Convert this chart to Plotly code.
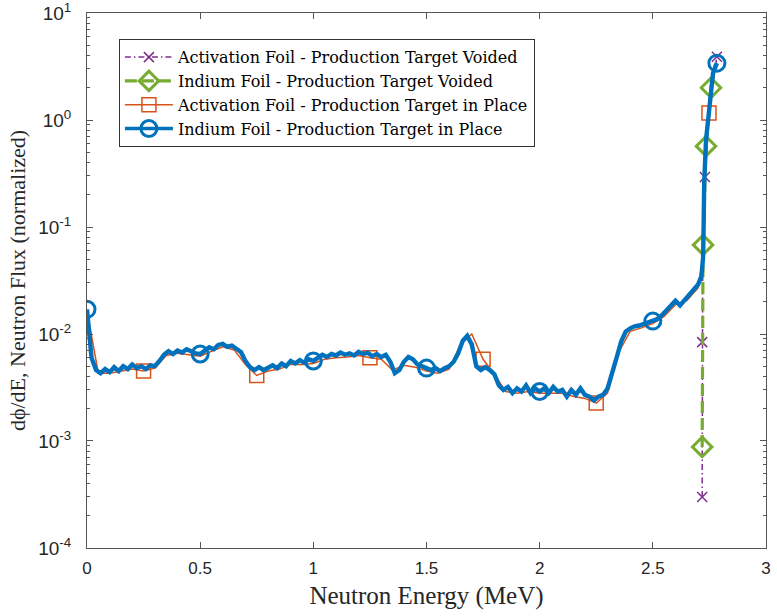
import plotly.graph_objects as go

# ---------------- data ----------------
# Indium foil - production target in place (blue), x step 0.02 MeV then tail
blue_x = [round(0.02 * i, 2) for i in range(136)] + [2.715, 2.722, 2.724, 2.727, 2.735, 2.753, 2.766, 2.783]
blue_y_e3 = [
    17.0, 6.0, 4.6, 4.3, 4.7, 4.4, 4.9, 4.5, 5.0, 4.7,      # 0.00-0.18
    5.2, 4.8, 5.0, 4.7, 5.1, 5.0, 5.6, 6.4, 6.9, 6.5,       # 0.20-0.38
    7.0, 6.7, 7.2, 6.8, 6.6, 6.5, 7.0, 7.5, 7.2, 7.9,       # 0.40-0.58
    8.1, 7.6, 7.8, 7.3, 6.8, 5.6, 4.9, 4.6, 4.9, 4.6,       # 0.60-0.78
    4.8, 5.1, 4.8, 5.3, 5.0, 5.6, 5.3, 5.7, 5.4, 5.8,       # 0.80-0.98
    5.6, 6.0, 6.4, 6.1, 6.5, 6.3, 6.7, 6.4, 6.6, 6.3,       # 1.00-1.18
    6.8, 6.5, 6.7, 6.2, 6.5, 6.1, 6.4, 5.5, 4.3, 4.6,       # 1.20-1.38
    5.5, 6.1, 5.8, 5.2, 5.0, 4.8, 4.6, 4.8, 4.5, 4.8,       # 1.40-1.58
    5.0, 5.5, 6.6, 8.6, 9.6, 8.0, 5.0, 4.6, 4.9, 4.6,       # 1.60-1.78
    4.2, 3.3, 3.0, 3.2, 2.8, 3.1, 2.9, 3.3, 2.8, 3.1,       # 1.80-1.98
    2.9, 3.1, 2.8, 3.2, 2.9, 3.0, 2.6, 3.0, 2.7, 3.1,       # 2.00-2.18
    2.7, 2.6, 2.4, 2.6, 2.7, 3.1, 4.2, 6.0, 8.5, 10.5,      # 2.20-2.38
    11.3, 11.8, 12.0, 12.4, 12.7, 13.2, 13.8, 15.0, 16.5, 18.2,  # 2.40-2.58
    20.5, 18.5, 20.8, 23.0, 25.5, 29.0,                     # 2.60-2.70
    35.0, 52.0, 88.0, 260.0, 650.0, 1540.0, 2750.0, 3400.0,  # tail
]
blue_marker_idx = [0, 25, 50, 75, 100, 125, 143]

# Activation foil - production target in place (orange), x step 0.05 MeV then tail
orange_x = [round(0.05 * i, 2) for i in range(55)] + [2.72, 2.726, 2.735, 2.748, 2.766, 2.783]
orange_y_e3 = [
    16.5, 4.3, 4.3, 4.5, 4.7, 4.5, 4.8, 6.3, 6.6, 6.4,      # 0.00-0.45
    6.2, 6.9, 7.6, 7.1, 5.2, 4.1, 4.5, 4.7, 5.2, 5.2,       # 0.50-0.95
    5.3, 5.8, 6.0, 6.1, 6.3, 6.0, 5.8, 4.6, 5.1, 4.9,       # 1.00-1.45
    4.5, 4.3, 4.7, 8.0, 10.0, 5.8, 4.2, 2.9, 2.8, 2.9,      # 1.50-1.95
    2.8, 2.8, 2.8, 2.6, 2.5, 2.26, 2.8, 6.8, 10.6, 11.4,    # 2.00-2.45
    12.5, 14.6, 18.8, 20.5, 27.0,                            # 2.50-2.70
    50.0, 250.0, 620.0, 1160.0, 2700.0, 3350.0,              # tail
]
orange_marker_idx = [5, 15, 25, 35, 45, 58]

# Activation foil - production target voided (purple)
purple_x = [2.718, 2.718, 2.72, 2.724, 2.73, 2.753, 2.783]
purple_y = [3.0e-4, 8.4e-3, 0.03, 0.085, 0.293, 1.5, 3.9]
purple_marker_idx = [0, 1, 4, 6]

# Indium foil - production target voided (green)
green_x = [2.718, 2.72, 2.722, 2.735, 2.757, 2.775]
green_y = [8.8e-4, 0.03, 0.068, 0.57, 2.0, 3.3]
green_marker_idx = [0, 2, 3, 4]

names = [
    "Activation Foil - Production Target Voided",
    "Indium Foil - Production Target Voided",
    "Activation Foil - Production Target in Place",
    "Indium Foil - Production Target in Place",
]

y_tick_vals = [1e-4, 1e-3, 1e-2, 1e-1, 1e0, 1e1]
y_tick_text = ["10<sup>-4</sup>", "10<sup>-3</sup>", "10<sup>-2</sup>", "10<sup>-1</sup>", "10<sup>0</sup>", "10<sup>1</sup>"]

# ---------------- styling ----------------
PURPLE = "#7E2F8E"
GREEN = "#77AC30"
ORANGE = "#D95319"
BLUE = "#0072BD"
AXC = "#555555"
TXT = "#262626"
SERIF = "Liberation Serif"
LEGSERIF = "DejaVu Serif"
SANS = "Liberation Sans"

blue_y = [v * 1e-3 for v in blue_y_e3]
orange_y = [v * 1e-3 for v in orange_y_e3]

series = [
    dict(x=purple_x, y=purple_y, idx=purple_marker_idx, color=PURPLE, lw=1.5, dash="6px,3px,1.5px,3px",
         sym="x-thin-open", ms=10, mlw=1.5),
    dict(x=green_x, y=green_y, idx=green_marker_idx, color=GREEN, lw=3.2, dash="12px,5px",
         sym="diamond-open", ms=15, mlw=3),
    dict(x=orange_x, y=orange_y, idx=orange_marker_idx, color=ORANGE, lw=1.5, dash="solid",
         sym="square-open", ms=14, mlw=1.5),
    dict(x=blue_x, y=blue_y, idx=blue_marker_idx, color=BLUE, lw=4.4, dash="solid",
         sym="circle-open", ms=16, mlw=3),
]

fig = go.Figure()
for s, name in zip(series, names):
    fig.add_trace(go.Scatter(
        x=s["x"], y=s["y"], mode="lines", showlegend=False, hoverinfo="skip",
        line=dict(color=s["color"], width=s["lw"], dash=s["dash"]),
    ))
    fig.add_trace(go.Scatter(
        x=[s["x"][i] for i in s["idx"]], y=[s["y"][i] for i in s["idx"]],
        mode="markers", showlegend=False, hoverinfo="skip",
        marker=dict(symbol=s["sym"], size=s["ms"], color=s["color"],
                    line=dict(color=s["color"], width=s["mlw"])),
    ))

# legend entries
for s, name in zip(series, names):
    fig.add_trace(go.Scatter(
        x=[None], y=[None], mode="lines+markers", name=name,
        line=dict(color=s["color"], width=min(s["lw"], 3.5), dash=s["dash"]),
        marker=dict(symbol=s["sym"], size=s["ms"], color=s["color"],
                    line=dict(color=s["color"], width=s["mlw"])),
    ))

minor_vals = [m * 10.0 ** e for e in range(-4, 1) for m in range(2, 10)]

fig.update_layout(
    width=777, height=616,
    margin=dict(l=87, r=11, t=13, b=68, autoexpand=False),
    paper_bgcolor="white", plot_bgcolor="white",
    showlegend=True,
    legend=dict(
        x=0.047, y=0.951, xanchor="left", yanchor="top",
        bgcolor="white", bordercolor="#333333", borderwidth=1,
        font=dict(family=LEGSERIF, size=16, color="black"),
        itemwidth=48, tracegroupgap=0,
    ),
    xaxis=dict(
        range=[0, 3], dtick=0.5, tick0=0, automargin=False,
        ticks="inside", ticklen=6, tickcolor=AXC, tickwidth=1,
        showline=True, linecolor=AXC, linewidth=1, mirror="allticks",
        showgrid=False, zeroline=False, ticklabelstandoff=5,
        tickfont=dict(family=SANS, size=17, color=TXT),
        title=dict(text="Neutron Energy (MeV)", font=dict(family=SERIF, size=25, color=TXT), standoff=9),
    ),
    yaxis=dict(
        type="log", range=[-4.0001, 1.0001], automargin=False,
        tickmode="array", tickvals=y_tick_vals, ticktext=y_tick_text,
        ticks="inside", ticklen=6, tickcolor=AXC, tickwidth=1,
        minor=dict(tickmode="array", tickvals=minor_vals, ticks="inside", ticklen=3, tickcolor=AXC, showgrid=False),
        showline=True, linecolor=AXC, linewidth=1, mirror="allticks",
        showgrid=False, zeroline=False, ticklabelstandoff=11,
        ticklabeloverflow="allow",
        tickfont=dict(family=SANS, size=19, color=TXT),
        title=dict(text="dϕ/dE, Neutron Flux (normalized)", font=dict(family=SERIF, size=22, color=TXT), standoff=6),
    ),
)

fig.write_html("out.html")
